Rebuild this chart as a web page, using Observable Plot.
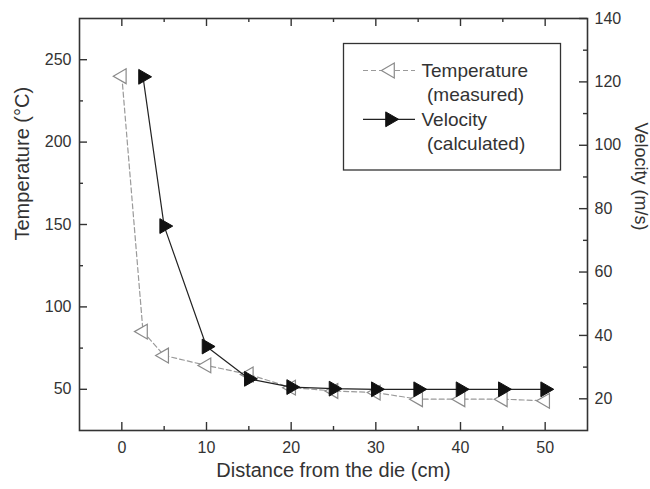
<!DOCTYPE html>
<html><head><meta charset="utf-8">
<script src="https://cdn.jsdelivr.net/npm/d3@7"></script>
<script src="https://cdn.jsdelivr.net/npm/@observablehq/plot@0.6"></script>
<style>
body{margin:0;background:#fff}
#chart svg{font-family:"Liberation Sans",Arial,sans-serif}
</style>
</head><body><div id="chart"></div>
<script>
// ---- data ----
const tempDistance = [0, 2.5, 5, 10, 15, 20, 25, 30, 35, 40, 45, 50];
const temperature  = [240, 85, 70.5, 64.5, 59, 51, 49, 48, 44, 44, 44, 43];
const velDistance  = [2.5, 5, 10, 15, 20, 25, 30, 35, 40, 45, 50];
const velocity     = [121.6, 74.5, 36.5, 26.3, 23.7, 23.2, 23, 23, 23, 23, 23];
const xTicks = [0, 10, 20, 30, 40, 50];
const xMinorTicks = [5, 15, 25, 35, 45];
const tempTicks = [50, 100, 150, 200, 250];
const tempMinorTicks = [75, 125, 175, 225];
const velTicks = [20, 40, 60, 80, 100, 120, 140];
const velMinorTicks = [30, 50, 70, 90, 110, 130];
const xDomain = [-5, 55];
const tempDomain = [25, 275];
const velDomain = [10, 140];

// ---- helpers ----
const toLeft = v => tempDomain[0] + (v - velDomain[0]) * (tempDomain[1] - tempDomain[0]) / (velDomain[1] - velDomain[0]);
const fromLeft = t => velDomain[0] + (t - tempDomain[0]) * (velDomain[1] - velDomain[0]) / (tempDomain[1] - tempDomain[0]);
const tempData = tempDistance.map((d, i) => ({d, t: temperature[i]}));
const velData = velDistance.map((d, i) => ({d, v: toLeft(velocity[i])}));

const W = 650, H = 489, mT = 18, mB = 59, mL = 79, mR = 63;
const innerH = H - mT - mB, innerW = W - mL - mR;
const axisColor = "#333";
const major = 8, minor = 4;
const tk = {stroke: axisColor, strokeWidth: 1.4};

const chart = Plot.plot({
  width: W, height: H,
  marginTop: mT, marginBottom: mB, marginLeft: mL, marginRight: mR,
  x: {domain: xDomain},
  y: {domain: tempDomain},
  style: {fontFamily: '"Liberation Sans", Arial, sans-serif', fontSize: "16px", color: axisColor, background: "white"},
  marks: [
    // inward ticks: bottom & top
    Plot.tickX(xTicks, {x: d => d, insetTop: innerH - major, ...tk}),
    Plot.tickX(xTicks, {x: d => d, insetBottom: innerH - major, ...tk}),
    Plot.tickX(xMinorTicks, {x: d => d, insetTop: innerH - minor, ...tk}),
    Plot.tickX(xMinorTicks, {x: d => d, insetBottom: innerH - minor, ...tk}),
    // left
    Plot.tickY(tempTicks, {y: d => d, insetRight: innerW - major, ...tk}),
    Plot.tickY(tempMinorTicks, {y: d => d, insetRight: innerW - minor, ...tk}),
    // right (velocity)
    Plot.tickY(velTicks.map(toLeft), {y: d => d, insetLeft: innerW - major, ...tk}),
    Plot.tickY(velMinorTicks.map(toLeft), {y: d => d, insetLeft: innerW - minor, ...tk}),
    Plot.frame({stroke: axisColor, strokeWidth: 1.6}),
    Plot.axisX({ticks: xTicks, tickSize: 0, tickPadding: 11, label: null, fontSize: 16}),
    Plot.axisY({anchor: "left", ticks: tempTicks, tickSize: 0, tickPadding: 8, label: null, fontSize: 16}),
    Plot.axisY({anchor: "right", ticks: velTicks.map(toLeft), tickFormat: d => Math.round(fromLeft(d)), tickSize: 0, tickPadding: 7, label: null, fontSize: 16}),
    // axis titles
    Plot.text(["Distance from the die (cm)"], {frameAnchor: "bottom", dy: 46, fontSize: 20, fill: axisColor}),
    Plot.text(["Temperature (°C)"], {frameAnchor: "left", rotate: -90, dx: -57, dy: 16, fontSize: 20, fill: axisColor}),
    Plot.text(["Velocity (m/s)"], {frameAnchor: "right", rotate: 90, dx: 53, dy: 6, fontSize: 18, fill: axisColor}),
    // series
    Plot.line(tempData, {x: "d", y: "t", stroke: "#9a9a9a", strokeWidth: 1.2, strokeDasharray: "5,3"}),
    Plot.dot(tempData, {x: "d", y: "t", symbol: "triangle", rotate: -90, r: 5.5, stroke: "#8a8a8a", fill: "white", strokeWidth: 1.2}),
    Plot.line(velData, {x: "d", y: "v", stroke: "#222", strokeWidth: 1.2}),
    Plot.dot(velData, {x: "d", y: "v", symbol: "triangle", rotate: 90, r: 5.5, stroke: "#111", fill: "#111", strokeWidth: 1})
  ]
});
document.getElementById("chart").appendChild(chart);

// ---- legend ----
const svg = d3.select(chart);
const lg = svg.append("g").attr("font-family", '"Liberation Sans", Arial, sans-serif')
  .attr("font-size", 19).attr("fill", axisColor).attr("text-anchor", "start");
lg.append("rect").attr("x", 343.5).attr("y", 43.5).attr("width", 217).attr("height", 126.5)
  .attr("fill", "white").attr("stroke", axisColor).attr("stroke-width", 1.3);
const tri = d3.symbol().type(d3.symbolTriangle).size(Math.PI * 5.5 * 5.5)();
// temperature entry
lg.append("line").attr("x1", 363).attr("x2", 415).attr("y1", 70.5).attr("y2", 70.5)
  .attr("stroke", "#9a9a9a").attr("stroke-width", 1.2).attr("stroke-dasharray", "5,3");
lg.append("path").attr("d", tri).attr("transform", "translate(390,70.5) rotate(-90)")
  .attr("fill", "white").attr("stroke", "#8a8a8a").attr("stroke-width", 1.2);
lg.append("text").attr("x", 421.5).attr("y", 77).text("Temperature");
lg.append("text").attr("x", 427).attr("y", 101).text("(measured)");
// velocity entry
lg.append("line").attr("x1", 363).attr("x2", 415).attr("y1", 119.3).attr("y2", 119.3)
  .attr("stroke", "#222").attr("stroke-width", 1.2);
lg.append("path").attr("d", tri).attr("transform", "translate(390,119.3) rotate(90)")
  .attr("fill", "#111").attr("stroke", "#111");
lg.append("text").attr("x", 421.5).attr("y", 126).text("Velocity");
lg.append("text").attr("x", 427).attr("y", 150).text("(calculated)");
</script>
</body></html>
